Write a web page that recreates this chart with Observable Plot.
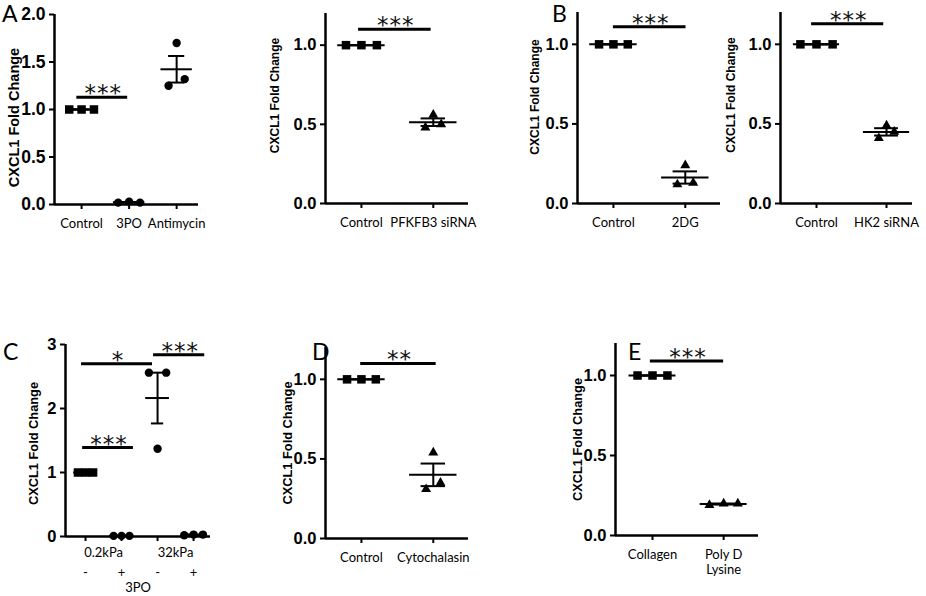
<!DOCTYPE html>
<html>
<head>
<meta charset="utf-8">
<script src="https://cdn.jsdelivr.net/npm/d3@7"></script>
<script src="https://cdn.jsdelivr.net/npm/@observablehq/plot@0.6"></script>
<style>
  body { margin: 0; background: #fff; }
  #fig { position: relative; width: 926px; height: 596px; overflow: hidden; background: #fff; }
  #fig svg { position: absolute; overflow: visible; }
</style>
</head>
<body>
<div id="fig"></div>
<script>
// ---------- DATA ----------
const yLabel = "CXCL1 Fold Change";
const panelLetters = ["A", "B", "C", "D", "E"];

// Panel A (left): values per group listed as [left, centre, right] replicate
const a1Categories = ["Control", "3PO", "Antimycin"];
const a1Values = [[1, 1, 1], [0.02, 0.03, 0.02], [1.25, 1.70, 1.32]];
const a1Symbols = ["square", "circle", "circle"];
const a1YTicks = [0, 0.5, 1, 1.5, 2];
const a1Sig = [{x1: -0.1, x2: 0.97, y: 1.13, stars: "***"}];

// Panel A (right)
const a2Categories = ["Control", "PFKFB3 siRNA"];
const a2Values = [[1, 1, 1], [0.48, 0.56, 0.50]];
const a2Symbols = ["square", "triangle"];
const a2YTicks = [0, 0.5, 1];
const a2Sig = [{x1: -0.04, x2: 0.97, y: 1.10, stars: "***"}];

// Panel B (left)
const b1Categories = ["Control", "2DG"];
const b1Values = [[1, 1, 1], [0.12, 0.24, 0.13]];
const b1Symbols = ["square", "triangle"];
const b1YTicks = [0, 0.5, 1];
const b1Sig = [{x1: 0, x2: 1.01, y: 1.11, stars: "***"}];

// Panel B (right)
const b2Categories = ["Control", "HK2 siRNA"];
const b2Values = [[1, 1, 1], [0.41, 0.49, 0.45]];
const b2Symbols = ["square", "triangle"];
const b2YTicks = [0, 0.5, 1];
const b2Sig = [{x1: -0.07, x2: 0.96, y: 1.13, stars: "***"}];

// Panel C
const cCategories = ["0.2kPa -", "0.2kPa +", "32kPa -", "32kPa +"];
const cGroupLabels = ["0.2kPa", "32kPa"];
const cSigns = ["-", "+", "-", "+"];
const cTreatment = "3PO";
const cValues = [[1, 1, 1], [0.01, 0.01, 0.01], [2.56, 1.37, 2.56], [0.02, 0.03, 0.03]];
const cSymbols = ["square", "circle", "circle", "circle"];
const cYTicks = [0, 1, 2, 3];
const cSig = [
  {x1: -0.11, x2: 1.86, y: 2.70, stars: "*"},
  {x1: 1.89, x2: 3.31, y: 2.84, stars: "***"},
  {x1: -0.08, x2: 1.33, y: 1.39, stars: "***"}
];

// Panel D
const dCategories = ["Control", "Cytochalasin"];
const dValues = [[1, 1, 1], [0.31, 0.54, 0.35]];
const dSymbols = ["square", "triangle"];
const dYTicks = [0, 0.5, 1];
const dSig = [{x1: -0.01, x2: 1.04, y: 1.10, stars: "**"}];

// Panel E
const eCategories = ["Collagen", "Poly D\nLysine"];
const eValues = [[1, 1, 1], [0.19, 0.20, 0.20]];
const eSymbols = ["square", "triangle"];
const eYTicks = [0, 0.5, 1];
const eSig = [{x1: -0.03, x2: 1.0, y: 1.09, stars: "***"}];

// ---------- LAYOUT / STYLE ----------
const fmt1 = d3.format(".1f");
const fmt0 = d3.format("d");
const panels = [
  {cats: a1Categories, values: a1Values, symbols: a1Symbols, sig: a1Sig, yTicks: a1YTicks, yFmt: fmt1,
   spread: [0.26, 0.23, 0.17], frame: {left: 54, right: 198, top: 14, bottom: 204},
   xDomain: [-0.57, 2.46], yDomain: [0, 2], tickFont: 17.5, labelSize: 14.5, labelOff: 40, labelDy: 8},
  {cats: a2Categories, values: a2Values, symbols: a2Symbols, sig: a2Sig, yTicks: a2YTicks, yFmt: fmt1,
   spread: [0.215, 0.11], frame: {left: 325, right: 468, top: 13, bottom: 203},
   xDomain: [-0.5, 1.49], yDomain: [0, 1.2], tickFont: 16.5, labelSize: 12, labelOff: 50, labelDy: -13},
  {cats: b1Categories, values: b1Values, symbols: b1Symbols, sig: b1Sig, yTicks: b1YTicks, yFmt: fmt1,
   spread: [0.2, 0.11], frame: {left: 577, right: 720, top: 12, bottom: 203},
   xDomain: [-0.5, 1.49], yDomain: [0, 1.2], tickFont: 16.5, labelSize: 12, labelOff: 42, labelDy: -11},
  {cats: b2Categories, values: b2Values, symbols: b2Symbols, sig: b2Sig, yTicks: b2YTicks, yFmt: fmt1,
   spread: [0.23, 0.11], frame: {left: 780, right: 912, top: 12, bottom: 203},
   xDomain: [-0.514, 1.371], yDomain: [0, 1.2], tickFont: 16.5, labelSize: 12, labelOff: 49, labelDy: -13},
  {cats: cCategories, values: cValues, symbols: cSymbols, sig: cSig, yTicks: cYTicks, yFmt: fmt0,
   spread: [0.21, 0.22, 0.24, 0.26], frame: {left: 65, right: 210, top: 344, bottom: 536},
   xDomain: [-0.556, 3.47], yDomain: [0, 3], tickFont: 16.5, labelSize: 12.8, labelOff: 32, labelDy: 3, isC: true},
  {cats: dCategories, values: dValues, symbols: dSymbols, sig: dSig, yTicks: dYTicks, yFmt: fmt1,
   spread: [0.2, 0.1], frame: {left: 325, right: 468, top: 347, bottom: 538},
   xDomain: [-0.5, 1.49], yDomain: [0, 1.2], tickFont: 16.5, labelSize: 12.8, labelOff: 38, labelDy: 0},
  {cats: eCategories, values: eValues, symbols: eSymbols, sig: eSig, yTicks: eYTicks, yFmt: fmt1,
   spread: [0.21, 0.2], frame: {left: 615, right: 758, top: 343, bottom: 535},
   xDomain: [-0.52, 1.49], yDomain: [0, 1.2], tickFont: 16.5, labelSize: 12.8, labelOff: 38, labelDy: 0}
];
const letterPos = [[2, 22], [552, 22], [3, 360], [312, 360], [628, 360]];

const symR = {square: 4.8, circle: 4.2, triangle: 3.7};
const MEAN_HW = 0.33, CAP_HW = 0.17;
const catFont = "Lato, 'Open Sans', sans-serif";
const numFont = "'Liberation Sans', Arial, sans-serif";

const fig = document.getElementById("fig");

panels.forEach(p => {
  const pts = [], stats = [];
  p.values.forEach((vals, i) => {
    vals.forEach((v, j) => pts.push({x: i + (j - 1) * p.spread[i], y: v, s: p.symbols[i]}));
    const m = d3.mean(vals);
    const se = d3.deviation(vals) / Math.sqrt(vals.length);
    stats.push({i, m, lo: m - se, hi: m + se});
  });
  const ml = 75, mr = 15, mt = 30, mb = 60;
  const fw = p.frame.right - p.frame.left, fh = p.frame.bottom - p.frame.top;
  const idx = d3.range(p.cats.length);

  const marks = [
    Plot.ruleX([p.xDomain[0]], {strokeWidth: 2.5}),
    Plot.ruleY([0], {strokeWidth: 2.5}),
    Plot.axisY({ticks: p.yTicks, tickFormat: p.yFmt, tickSize: 5, tickPadding: 4, strokeWidth: 2,
      fontSize: p.tickFont, fontWeight: "bold", fontFamily: numFont, label: null}),
    p.isC
      ? Plot.axisX({ticks: idx, tickFormat: () => "", tickSize: 5, strokeWidth: 2, label: null})
      : Plot.axisX({ticks: idx, tickFormat: i => p.cats[i], tickSize: 5, tickPadding: 7, strokeWidth: 2,
          fontSize: 13, fontFamily: catFont, lineHeight: 1.2, label: null}),
    Plot.text([yLabel], {frameAnchor: "left", rotate: -90, dx: -p.labelOff, dy: p.labelDy,
      fontSize: p.labelSize, fontWeight: "bold", fontFamily: numFont, textAnchor: "middle", lineAnchor: "middle"}),
    Plot.ruleY(stats, {y: "m", x1: d => d.i - MEAN_HW, x2: d => d.i + MEAN_HW, strokeWidth: 2}),
    Plot.ruleX(stats, {x: "i", y1: "lo", y2: "hi", strokeWidth: 2}),
    Plot.ruleY(stats, {y: "lo", x1: d => d.i - CAP_HW, x2: d => d.i + CAP_HW, strokeWidth: 2}),
    Plot.ruleY(stats, {y: "hi", x1: d => d.i - CAP_HW, x2: d => d.i + CAP_HW, strokeWidth: 2}),
    ...["square", "circle", "triangle"].map(s =>
      Plot.dot(pts.filter(d => d.s === s), {x: "x", y: "y", symbol: s, r: symR[s], fill: "black", stroke: "none"})),
    Plot.ruleY(p.sig, {y: "y", x1: "x1", x2: "x2", strokeWidth: 3}),
    Plot.text(p.sig, {x: d => (d.x1 + d.x2) / 2, y: "y", text: "stars", lineAnchor: "bottom", dy: 4, dx: 1,
      fontSize: 23, fontFamily: "'DejaVu Sans', sans-serif", fill: "#111"})
  ];
  if (p.isC) {
    marks.push(
      Plot.text(cGroupLabels, {x: (d, i) => i * 2 + 0.5, frameAnchor: "bottom", dy: 16, text: d => d,
        fontSize: 13, fontFamily: catFont, lineAnchor: "middle"}),
      Plot.text(cSigns, {x: (d, i) => i, frameAnchor: "bottom", dy: 36, text: d => d,
        fontSize: 13, fontFamily: catFont, lineAnchor: "middle"}),
      Plot.text([cTreatment], {frameAnchor: "bottom", dy: 51, text: d => d,
        fontSize: 13, fontFamily: catFont, lineAnchor: "middle"})
    );
  }

  const svg = Plot.plot({
    width: fw + ml + mr, height: fh + mt + mb,
    marginLeft: ml, marginRight: mr, marginTop: mt, marginBottom: mb,
    x: {domain: p.xDomain, label: null},
    y: {domain: p.yDomain, label: null},
    style: {background: "transparent", overflow: "visible", fontFamily: numFont, color: "black"},
    marks
  });
  svg.style.left = (p.frame.left - ml) + "px";
  svg.style.top = (p.frame.top - mt) + "px";
  d3.select(svg).selectAll("text").filter(function() { return /^\*+$/.test(this.textContent); })
    .attr("letter-spacing", "1px");
  fig.appendChild(svg);
});

// panel letters
const ns = "http://www.w3.org/2000/svg";
const overlay = document.createElementNS(ns, "svg");
overlay.setAttribute("width", 926); overlay.setAttribute("height", 596);
overlay.style.left = "0px"; overlay.style.top = "0px";
panelLetters.forEach((L, i) => {
  const t = document.createElementNS(ns, "text");
  t.setAttribute("x", letterPos[i][0]); t.setAttribute("y", letterPos[i][1]);
  t.setAttribute("font-family", catFont); t.setAttribute("font-size", 23);
  t.textContent = L;
  overlay.appendChild(t);
});
fig.appendChild(overlay);
</script>
</body>
</html>
